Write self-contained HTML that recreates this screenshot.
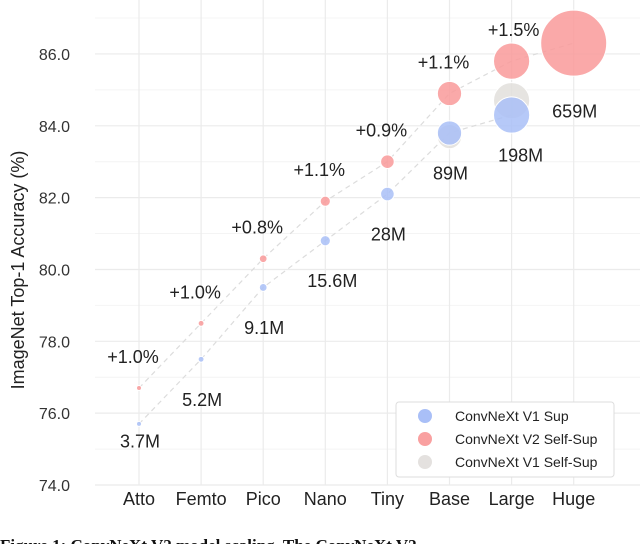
<!DOCTYPE html>
<html><head><meta charset="utf-8"><style>
body{margin:0;background:#fff;width:640px;height:544px;overflow:hidden;font-family:"Liberation Sans",sans-serif}
</style></head><body>
<svg width="640" height="544" xmlns="http://www.w3.org/2000/svg">
<g id="grid"></g><g id="lines"></g><g id="marks"></g><g id="labels"></g>
<text x="0" y="0" transform="translate(24,270) rotate(-90)" text-anchor="middle" font-size="18" fill="#222">ImageNet Top-1 Accuracy (%)</text>
<g>
<rect x="396" y="402" width="218" height="75" rx="3" fill="#fff" stroke="#ddd"/>
<circle cx="425" cy="416" r="7" fill="#a9bff7"/>
<text x="455" y="421" font-size="14" fill="#222">ConvNeXt V1 Sup</text>
<circle cx="425" cy="439" r="7" fill="#f9a0a0"/>
<text x="455" y="444" font-size="14" fill="#222">ConvNeXt V2 Self-Sup</text>
<circle cx="425" cy="462" r="7" fill="#e4e1df"/>
<text x="455" y="467" font-size="14" fill="#222">ConvNeXt V1 Self-Sup</text>
</g>
<text x="0" y="551" font-family="Liberation Serif,serif" font-size="17" fill="#111" font-weight="bold">Figure 1:   ConvNeXt V2 model scaling.  The ConvNeXt V2</text>
</svg>
<script>
const categories=["Atto","Femto","Pico","Nano","Tiny","Base","Large","Huge"];
const v1Sup=[75.7,77.5,79.5,80.8,82.1,83.8,84.3,null];
const v2Ssl=[76.7,78.5,80.3,81.9,83.0,84.9,85.8,86.3];
const v1Ssl=[null,null,null,null,null,83.7,84.7,null];
const params=[3.7,5.2,9.1,15.6,28,89,198,659];
const paramLabels=["3.7M","5.2M","9.1M","15.6M","28M","89M","198M","659M"];
const gainLabels=["+1.0%","+1.0%","+0.8%","+1.1%","+0.9%","+1.1%","+1.5%",""];
const yTicks=[74,76,78,80,82,84,86];
const NS="http://www.w3.org/2000/svg";
const x=i=>139+i*62.1;
const y=v=>485-(v-74)*35.92;
const r=p=>Math.max(2.5,33*Math.sqrt(p/659));
function mk(t,a,parent){const e=document.createElementNS(NS,t);for(const k in a)e.setAttribute(k,a[k]);document.getElementById(parent).appendChild(e);return e;}
yTicks.forEach(v=>{
 const l=mk('line',{x1:95,x2:640,y1:y(v),y2:y(v),stroke:'#ebebeb','stroke-width':1.2},'grid');
 
 
 const m=mk('line',{x1:95,x2:640,y1:y(v+1),y2:y(v+1),stroke:'#f4f4f4','stroke-width':1},'grid');
 
 
 const t=mk('text',{x:70,y:y(v)+6,'text-anchor':'end','font-size':16,fill:'#333'},'labels');
 t.textContent=v.toFixed(1);
 
 
});
categories.forEach((c,i)=>{
 const l=mk('line',{x1:x(i),x2:x(i),y1:0,y2:485,stroke:'#ebebeb','stroke-width':1.2},'grid');
 
 
 const t=mk('text',{x:x(i),y:505,'text-anchor':'middle','font-size':18,fill:'#222'},'labels');
 t.textContent=c;
 
 
});
function line(arr,nm){
 const pts=[];arr.forEach((v,i)=>{if(v!=null)pts.push(x(i)+','+y(v));});
 const p=mk('polyline',{points:pts.join(' '),fill:'none',stroke:'#dcdcdc','stroke-width':1.2,'stroke-dasharray':'5,4'},'lines');
 
 
}
line(v2Ssl,'v2-ssl-line');line(v1Sup,'v1-sup-line');
function dots(arr,col,nm){
 arr.forEach((v,i)=>{if(v==null)return;
  const c=mk('circle',{cx:x(i),cy:y(v),r:r(params[i]),fill:col,'fill-opacity':0.85,stroke:'#fff','stroke-width':1},'marks');
  
  
 });
}
dots(v1Ssl,'#e2dfdc','v1-ssl-point');
dots(v1Sup,'#a9bff7','v1-sup-point');
dots(v2Ssl,'#f99a9a','v2-ssl-point');
params.forEach((p,i)=>{
 const base=v1Sup[i]!=null?v1Sup[i]:v2Ssl[i];
 let off=40; if(i==0) off=17; if(i==7) off=68;
 const lx=x(i)+(i==3?7:(i==6?9:1)), ly=y(base)+off+6.5;
 const t=mk('text',{x:lx,y:ly,'text-anchor':'middle','font-size':18,fill:'#222'},'labels');
 t.textContent=paramLabels[i];
 
 
 if(gainLabels[i]){
  const g=mk('text',{x:x(i)+(i==6?2:-6),y:y(v2Ssl[i])-25,'text-anchor':'middle','font-size':18,fill:'#222'},'labels');
  g.textContent=gainLabels[i];
  
  
 }
});
</script>
</body></html>
